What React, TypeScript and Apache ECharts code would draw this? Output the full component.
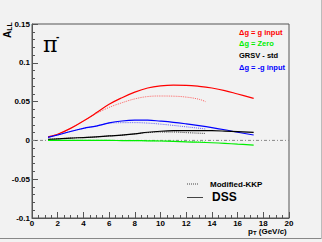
import React, { useEffect, useRef } from "react";
import * as echarts from "echarts";

const xsSolid = [1.25, 2, 3, 4, 5, 6, 7, 8, 9, 10, 11, 12, 13, 14, 15, 16, 17.25];
const xsDotted = [1.25, 2, 3, 4, 5, 6, 7, 8, 9, 10, 11, 12, 13, 13.5];

const redSolid = [0.0045, 0.008, 0.0155, 0.025, 0.0355, 0.0465, 0.055, 0.0622, 0.0675, 0.0702, 0.0712, 0.071, 0.0697, 0.0675, 0.0642, 0.0598, 0.0542];
const redDotted = [0.0045, 0.008, 0.0155, 0.025, 0.0345, 0.0425, 0.0485, 0.0535, 0.0565, 0.0572, 0.057, 0.0558, 0.053, 0.050];
const blueSolid = [0.004, 0.007, 0.0115, 0.0155, 0.0185, 0.0225, 0.025, 0.026, 0.026, 0.0248, 0.0233, 0.0213, 0.019, 0.0165, 0.0137, 0.0105, 0.007];
const blueDotted = [0.004, 0.007, 0.0115, 0.0155, 0.0185, 0.0222, 0.0228, 0.0229, 0.0223, 0.021, 0.0193, 0.0175, 0.0157, 0.0147];
const blackSolid = [0.0012, 0.002, 0.003, 0.0037, 0.0045, 0.0058, 0.0068, 0.0085, 0.0105, 0.0118, 0.0125, 0.0126, 0.0126, 0.0125, 0.012, 0.0113, 0.0104];
const blackDotted = [0.0012, 0.002, 0.003, 0.0037, 0.0045, 0.0058, 0.0068, 0.0085, 0.010, 0.0108, 0.0108, 0.010, 0.0093, 0.009];
const greenSolid = [0, 0, 0, 0, 0, 0, -0.0002, -0.0003, -0.0005, -0.0008, -0.0012, -0.0018, -0.0024, -0.003, -0.0038, -0.0048, -0.006];
const greenDotted = [0, 0, 0, 0, 0, 0, -0.0002, -0.0003, -0.0005, -0.0008, -0.0011, -0.0015, -0.0018, -0.002];
const zeroLine = [[0, 0], [20, 0]];

const xTicks = ["0", "2", "4", "6", "8", "10", "12", "14", "16", "18", "20"];
const yTicks = ["-0.1", "-0.05", "0", "0.05", "0.1", "0.15"];

const legendEntries = [
  { text: "Δg = g input", color: "#ff0000" },
  { text: "Δg = Zero", color: "#00ee00" },
  { text: "GRSV - std", color: "#000000" },
  { text: "Δg = -g input", color: "#0000ff" },
];

const FONT = "'Liberation Sans', Arial, sans-serif";

function pairs(xs: number[], ys: number[]) {
  return xs.map((x, i) => [x, ys[i]]);
}

export default function App() {
  const ref = useRef<HTMLDivElement>(null);
  useEffect(() => {
    if (!ref.current) return;
    const chart = echarts.init(ref.current, undefined, { renderer: "svg" });
    const line = (name: string, data: number[][], color: string, dotted: boolean) => ({
      name,
      type: "line",
      data,
      smooth: 0.4,
      showSymbol: false,
      symbol: "none",
      lineStyle: { color, width: dotted ? 1 : 1.2, type: dotted ? [1, 1] : "solid", opacity: dotted ? 0.75 : 1 },
      z: 3,
    });
    chart.setOption({
      animation: false,
      backgroundColor: "#f2f2f2",
      grid: { left: 32, top: 24, width: 257, height: 194, show: true, borderColor: "#555", borderWidth: 1, backgroundColor: "transparent" },
      xAxis: {
        type: "value",
        min: 0,
        max: 20,
        interval: 2,
        axisLine: { show: true, onZero: false, lineStyle: { color: "#555" } },
        axisTick: { show: true, inside: true, length: 6, lineStyle: { color: "#555" } },
        minorTick: { show: true, splitNumber: 4, length: 3, lineStyle: { color: "#555" } },
        splitLine: { show: false },
        axisLabel: {
          margin: 1,
          fontFamily: FONT,
          fontWeight: "bold",
          fontSize: 8,
          color: "#000",
          formatter: (v: number) => xTicks[Math.round(v / 2)] ?? "",
        },
      },
      yAxis: {
        type: "value",
        min: -0.1,
        max: 0.15,
        interval: 0.05,
        axisLine: { show: true, onZero: false, lineStyle: { color: "#555" } },
        axisTick: { show: true, inside: true, length: 6, lineStyle: { color: "#555" } },
        minorTick: { show: true, splitNumber: 5, length: 3, lineStyle: { color: "#555" } },
        splitLine: { show: false },
        axisLabel: {
          margin: 2,
          fontFamily: FONT,
          fontWeight: "bold",
          fontSize: 8,
          color: "#000",
          formatter: (v: number) => yTicks[Math.round((v + 0.1) / 0.05)] ?? "",
        },
      },
      series: [
        {
          name: "zero",
          type: "line",
          data: zeroLine,
          showSymbol: false,
          symbol: "none",
          lineStyle: { color: "#888", width: 1, type: [3, 2, 1, 2] },
          z: 2,
        },
        line("redDotted", pairs(xsDotted, redDotted), "#ff3333", true),
        line("redSolid", pairs(xsSolid, redSolid), "#ff0000", false),
        line("blueDotted", pairs(xsDotted, blueDotted), "#3333ff", true),
        line("blueSolid", pairs(xsSolid, blueSolid), "#0000ff", false),
        line("blackDotted", pairs(xsDotted, blackDotted), "#000000", true),
        line("blackSolid", pairs(xsSolid, blackSolid), "#000000", false),
        line("greenDotted", pairs(xsDotted, greenDotted), "#33ff33", true),
        line("greenSolid", pairs(xsSolid, greenSolid), "#00ee00", false),
      ],
      graphic: [
        { type: "line", shape: { x1: 0, y1: 238.5, x2: 322, y2: 238.5 }, style: { stroke: "#888", lineWidth: 1 }, silent: true },
        { type: "line", shape: { x1: 321.5, y1: 0, x2: 321.5, y2: 239 }, style: { stroke: "#bbb", lineWidth: 1 }, silent: true },
        {
          type: "text",
          x: 13,
          y: 38,
          rotation: Math.PI / 2,
          style: {
            text: "{a|A}{s|LL}",
            rich: {
              a: { fontFamily: FONT, fontWeight: "bold", fontSize: 10, fill: "#000" },
              s: { fontFamily: FONT, fontWeight: "bold", fontSize: 7, fill: "#000", padding: [4, 0, 0, 0] },
            },
            verticalAlign: "bottom",
          },
        },
        {
          type: "text",
          x: 43,
          y: 33,
          style: { text: "π", font: "22px 'DejaVu Serif', serif", fill: "#000" },
        },
        {
          type: "text",
          x: 56,
          y: 31,
          style: { text: "-", font: "bold 10px " + FONT, fill: "#000" },
        },
        ...legendEntries.map((e, i) => ({
          type: "text",
          x: 239,
          y: 32 + i * 11.7,
          style: { text: e.text, font: "bold 7.5px " + FONT, fill: e.color, verticalAlign: "middle" },
        })),
        { type: "line", shape: { x1: 187, y1: 184, x2: 199, y2: 184 }, style: { stroke: "#444", lineWidth: 1, lineDash: [1, 1] } },
        { type: "text", x: 210, y: 184, style: { text: "Modified-KKP", font: "bold 8px " + FONT, fill: "#000", verticalAlign: "middle" } },
        { type: "line", shape: { x1: 187, y1: 197.5, x2: 203, y2: 197.5 }, style: { stroke: "#444", lineWidth: 1 } },
        { type: "text", x: 212, y: 197, style: { text: "DSS", font: "bold 12px " + FONT, fill: "#000", verticalAlign: "middle" } },
        {
          type: "text",
          x: 248,
          y: 231,
          style: {
            text: "{p|p}{t|T}{p| (GeV/c)}",
            verticalAlign: "middle",
            rich: {
              p: { fontFamily: FONT, fontWeight: "bold", fontSize: 8, fill: "#000" },
              t: { fontFamily: FONT, fontWeight: "bold", fontSize: 6, fill: "#000", padding: [4, 0, 0, 0] },
            },
          },
        },
      ],
    });
    return () => chart.dispose();
  }, []);
  return <div ref={ref} style={{ position: "fixed", left: 0, top: 0, width: 322, height: 242 }} />;
}
